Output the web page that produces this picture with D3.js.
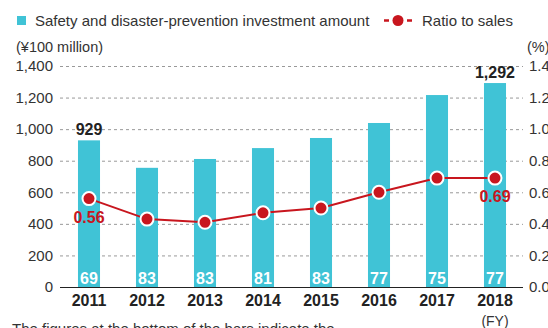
<!DOCTYPE html>
<html><head><meta charset="utf-8">
<script src="https://cdn.jsdelivr.net/npm/d3@7"></script>
<style>
body{margin:0;background:#fff;}
svg{display:block;font-family:"Liberation Sans",Arial,sans-serif;}
</style></head>
<body><svg id="c" width="548" height="328"></svg>
<script>
const years = ["2011","2012","2013","2014","2015","2016","2017","2018"];
const investment = [929, 755, 811, 880, 944, 1039, 1216, 1292];
const ratio = [0.56, 0.43, 0.41, 0.47, 0.50, 0.60, 0.69, 0.69];
const inBarLabels = [69, 83, 83, 81, 83, 77, 75, 77];
const leftTicks = [0,200,400,600,800,1000,1200,1400];
const rightTicks = [0,0.2,0.4,0.6,0.8,1.0,1.2,1.4];

const svg = d3.select("#c");
const teal = "#40c3d6", red = "#c8161e", txt = "#333";
const x0 = 60, x1 = 524, yTop = 66, yBase = 287;

const x = d3.scaleBand().domain(years).range([x0, x1]).paddingInner(0.62).paddingOuter(0.31);
const yL = d3.scaleLinear().domain([0,1400]).range([yBase, yTop]);
const yR = d3.scaleLinear().domain([0,1.4]).range([yBase, yTop]);
const cx = d => x(d) + x.bandwidth()/2;

// gridlines
svg.append("g").selectAll("line").data(leftTicks.filter(d=>d>0)).join("line")
  .attr("x1", x0).attr("x2", x1-1)
  .attr("y1", d=>yL(d)+0.5).attr("y2", d=>yL(d)+0.5)
  .attr("stroke","#999").attr("stroke-width",1).attr("stroke-dasharray","3,3");

// left axis
const la = svg.append("g").attr("transform",`translate(${x0},0)`)
  .call(d3.axisLeft(yL).tickValues(leftTicks).tickSize(0).tickPadding(7).tickFormat(d3.format(",")));
la.select(".domain").remove();
la.selectAll("text").attr("font-size",15).attr("fill",txt).attr("font-family","Liberation Sans, Arial, sans-serif");

// right axis
const ra = svg.append("g").attr("transform",`translate(${x1},0)`)
  .call(d3.axisRight(yR).tickValues(rightTicks).tickSize(0).tickPadding(5).tickFormat(d3.format(".1f")));
ra.select(".domain").remove();
ra.selectAll("text").attr("font-size",15).attr("fill",txt).attr("font-family","Liberation Sans, Arial, sans-serif");

// bars
svg.append("g").selectAll("rect").data(years).join("rect")
  .attr("x", d=>x(d)).attr("width", x.bandwidth())
  .attr("y", (d,i)=>yL(investment[i])).attr("height",(d,i)=>yBase-yL(investment[i]))
  .attr("fill", teal);

// baseline
svg.append("line").attr("x1",x0).attr("x2",x1-1).attr("y1",yBase+0.5).attr("y2",yBase+0.5)
  .attr("stroke","#222").attr("stroke-width",1.2);

// in-bar labels
svg.append("g").selectAll("text").data(years).join("text")
  .attr("x", d=>cx(d)).attr("y", yBase-3).attr("text-anchor","middle")
  .attr("font-size",16).attr("font-weight","bold").attr("fill","#fff")
  .text((d,i)=>inBarLabels[i]);

// year labels (x axis)
const xa = svg.append("g").attr("transform",`translate(0,${yBase})`)
  .call(d3.axisBottom(x).tickSize(0).tickPadding(8));
xa.select(".domain").remove();
xa.selectAll("text").attr("font-size",16).attr("font-weight","bold").attr("fill","#222")
  .attr("font-family","Liberation Sans, Arial, sans-serif");
svg.append("text").attr("x",cx("2018")).attr("y",326).attr("text-anchor","middle")
  .attr("font-size",14).attr("fill",txt).text("(FY)");

// bar value labels first & last
[[0,"929"],[7,"1,292"]].forEach(([i,t])=>{
  svg.append("text").attr("x",cx(years[i])).attr("y",yL(investment[i])-5).attr("text-anchor","middle")
    .attr("font-size",16).attr("font-weight","bold").attr("fill","#222").text(t);
});

// ratio line
const line = d3.line().x((d,i)=>cx(years[i])).y(d=>yR(d));
svg.append("path").datum(ratio).attr("d",line).attr("fill","none").attr("stroke",red).attr("stroke-width",2);
svg.append("g").selectAll("circle").data(ratio).join("circle")
  .attr("cx",(d,i)=>cx(years[i])).attr("cy",d=>yR(d)).attr("r",6.5)
  .attr("fill",red).attr("stroke","#fff").attr("stroke-width",2);

// ratio labels
[[0,"0.56"],[7,"0.69"]].forEach(([i,t])=>{
  svg.append("text").attr("x",cx(years[i])).attr("y",yR(ratio[i])+24).attr("text-anchor","middle")
    .attr("font-size",16).attr("font-weight","bold").attr("fill",red).text(t);
});

// axis titles
svg.append("text").attr("x",16).attr("y",52).attr("font-size",14.5).attr("fill",txt).text("(¥100 million)");
svg.append("text").attr("x",527).attr("y",52).attr("font-size",14.5).attr("fill",txt).text("(%)");

// legend
svg.append("rect").attr("x",17).attr("y",16).attr("width",9).attr("height",9).attr("fill",teal);
svg.append("text").attr("x",35).attr("y",26).attr("font-size",15).attr("fill",txt)
  .text("Safety and disaster-prevention investment amount");
svg.append("line").attr("x1",384).attr("x2",412).attr("y1",20.5).attr("y2",20.5)
  .attr("stroke",red).attr("stroke-width",2.5).attr("stroke-dasharray","5,18");
svg.append("circle").attr("cx",398).attr("cy",20.5).attr("r",5.5).attr("fill",red);
svg.append("text").attr("x",422).attr("y",26).attr("font-size",15).attr("fill",txt).text("Ratio to sales");

// footnote (cut off)
svg.append("text").attr("x",12).attr("y",334).attr("font-size",15).attr("fill",txt)
  .text("The figures at the bottom of the bars indicate the");
</script></body></html>
